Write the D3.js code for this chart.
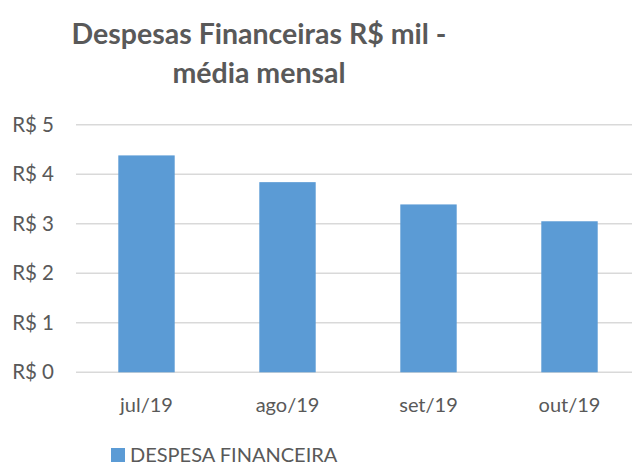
<!DOCTYPE html>
<html>
<head>
<meta charset="utf-8">
<script src="https://cdn.jsdelivr.net/npm/d3@7"></script>
<style>
  body { margin: 0; background: #fff; }
  text { font-family: Lato, "Open Sans", sans-serif; }
</style>
</head>
<body>
<script>
var months = ["jul/19", "ago/19", "set/19", "out/19"]
var despesa = [4.38, 3.84, 3.39, 3.05]
var yTicks = [0, 1, 2, 3, 4, 5]
var titleLines = ["Despesas Financeiras R$ mil -", "média mensal"]
var seriesName = "DESPESA FINANCEIRA"

var width = 632, height = 465
var svg = d3.select("body")
      .append("svg")
      .attr("width", width)
      .attr("height", height)

var x = d3.scaleBand()
  .domain(months)
  .range([76, 640])
  .paddingInner(0.6)
  .paddingOuter(0.3)

var y = d3.scaleLinear()
  .domain([0, 5])
  .range([372.3, 124.7])

// gridlines
svg.selectAll("line.grid")
  .data(yTicks).enter()
  .append("line")
  .attr("class", "grid")
  .attr("x1", 76)
  .attr("x2", width)
  .attr("y1", function(d) {return y(d)})
  .attr("y2", function(d) {return y(d)})
  .attr("stroke", "#d9d9d9")
  .attr("stroke-width", 1.5)

var yAxis = svg.append("g")
  .attr("transform", "translate(54,0)")
  .call(d3.axisLeft(y).tickValues(yTicks).tickSize(0).tickPadding(0)
    .tickFormat(function(d) {return "R$ " + d}))
yAxis.select(".domain").remove()
yAxis.selectAll("text")
  .attr("font-size", "20.5px")
  .attr("fill", "#595959")
  .attr("font-family", "Lato, sans-serif")

svg.selectAll("rect.bar")
  .data(despesa).enter()
  .append("rect")
  .attr("class", "bar")
  .attr("x", function(d, i) {return x(months[i])})
  .attr("y", function(d) {return y(d)})
  .attr("width", x.bandwidth())
  .attr("height", function(d) {return y(0) - y(d)})
  .attr("fill", "#5b9bd5")

var xAxis = svg.append("g")
  .attr("transform", "translate(0," + y(0) + ")")
  .call(d3.axisBottom(x).tickSize(0).tickPadding(0))
xAxis.select(".domain").remove()
xAxis.selectAll("text")
  .attr("dy", 0)
  .attr("y", 40)
  .attr("font-size", "20px")
  .attr("fill", "#595959")
  .attr("font-family", "Lato, sans-serif")

svg.selectAll("text.title")
  .data(titleLines).enter()
  .append("text")
  .attr("class", "title")
  .attr("x", 259)
  .attr("y", function(d, i) {return 44 + i * 39})
  .attr("text-anchor", "middle")
  .attr("font-size", "28.5px")
  .attr("font-weight", "bold")
  .attr("fill", "#595959")
  .text(function(d) {return d})

var legend = svg.append("g")
legend.append("rect")
  .attr("x", 111)
  .attr("y", 448)
  .attr("width", 14)
  .attr("height", 14)
  .attr("fill", "#5b9bd5")
legend.append("text")
  .attr("x", 130)
  .attr("y", 462)
  .attr("font-size", "20px")
  .attr("fill", "#595959")
  .text(seriesName)
</script>
</body>
</html>
